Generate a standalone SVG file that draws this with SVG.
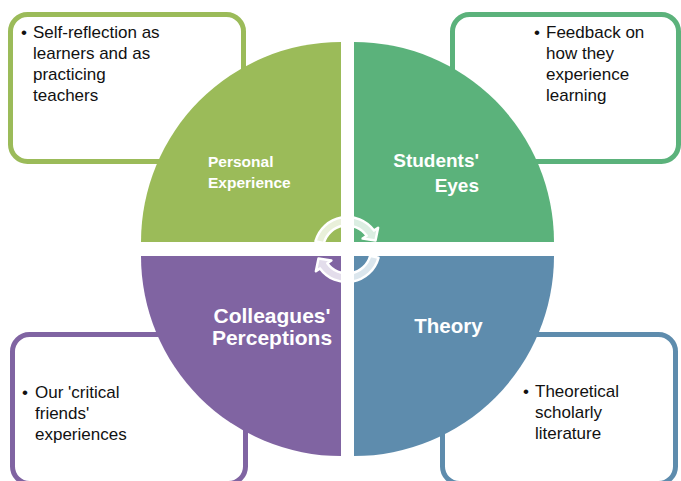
<svg xmlns="http://www.w3.org/2000/svg" width="681" height="481" viewBox="0 0 681 481">
  <style>
    .box { fill: #fff; stroke-width: 5; }
    .note { font-family: "Liberation Sans", Arial, sans-serif; font-size: 17px; fill: #111; }
    .label { font-family: "Liberation Sans", Arial, sans-serif; font-weight: bold; fill: #fff; }
    .cycle { fill: #fff; fill-opacity: 0.78; stroke: #fff; stroke-width: 2.5; stroke-linejoin: round; }
  </style>
  <rect width="681" height="481" fill="#fff"/>

  <!-- detail boxes behind the wheel -->
  <g id="box-personal">
    <rect class="box" x="10.5" y="14.5" width="233" height="147" rx="17" stroke="#9BBB59"/>
    <text class="note"><tspan x="21" y="38">•</tspan><tspan x="33" y="38">Self-reflection as</tspan><tspan x="33" y="59">learners and as</tspan><tspan x="33" y="80">practicing</tspan><tspan x="33" y="101">teachers</tspan></text>
  </g>
  <g id="box-students">
    <rect class="box" x="452.5" y="14.5" width="226" height="147" rx="17" stroke="#5BB27B"/>
    <text class="note"><tspan x="534" y="38">•</tspan><tspan x="546" y="38">Feedback on</tspan><tspan x="546" y="59">how they</tspan><tspan x="546" y="80">experience</tspan><tspan x="546" y="101">learning</tspan></text>
  </g>
  <g id="box-colleagues">
    <rect class="box" x="12.5" y="334.5" width="233" height="149" rx="17" stroke="#8064A2"/>
    <text class="note"><tspan x="22" y="398">•</tspan><tspan x="35" y="398">Our 'critical</tspan><tspan x="35" y="419">friends'</tspan><tspan x="35" y="440">experiences</tspan></text>
  </g>
  <g id="box-theory">
    <rect class="box" x="442.5" y="334.5" width="233" height="149" rx="17" stroke="#5E8CAD"/>
    <text class="note"><tspan x="523" y="397">•</tspan><tspan x="535" y="397">Theoretical</tspan><tspan x="535" y="418">scholarly</tspan><tspan x="535" y="439">literature</tspan></text>
  </g>

  <!-- wheel quadrants -->
  <g id="personal-experience">
    <path d="M341,242 L141,242 A200,200 0 0 1 341,42 Z" fill="#9BBB59"/>
    <text class="label" font-size="15.5"><tspan x="208" y="167">Personal</tspan><tspan x="208" y="188">Experience</tspan></text>
  </g>
  <g id="students-eyes">
    <path d="M354,242 L354,42 A200,200 0 0 1 554,242 Z" fill="#5BB27B"/>
    <text class="label" font-size="19" text-anchor="end"><tspan x="479" y="167">Students'</tspan><tspan x="479" y="192">Eyes</tspan></text>
  </g>
  <g id="theory">
    <path d="M354,256 L554,256 A200,200 0 0 1 354,456 Z" fill="#5E8CAD"/>
    <text class="label" font-size="20.5" text-anchor="middle" x="448.5" y="333">Theory</text>
  </g>
  <g id="colleagues-perceptions">
    <path d="M341,256 L341,456 A200,200 0 0 1 141,256 Z" fill="#8064A2"/>
    <text class="label" font-size="21" text-anchor="middle"><tspan x="272" y="323">Colleagues'</tspan><tspan x="272" y="345">Perceptions</tspan></text>
  </g>

  <!-- cycle arrows in the centre -->
  <g id="connectors">
    <defs>
      <path id="cycle-arrow" d="M315.5,241.2 A33,33 0 0 1 374.0,230.6 L378.1,227.7 L375.5,240.5 L362.6,238.6 L366.7,235.8 A24,24 0 0 0 323.8,243.3 Z"/>
    </defs>
    <use href="#cycle-arrow" class="cycle"/>
    <use href="#cycle-arrow" class="cycle" transform="rotate(180 347 249.5)"/>
  </g>
</svg>
